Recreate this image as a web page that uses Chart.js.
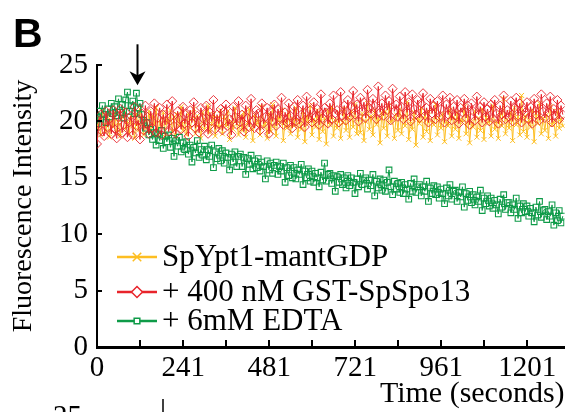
<!DOCTYPE html>
<html><head><meta charset="utf-8">
<script src="https://cdn.jsdelivr.net/npm/chart.js@4/dist/chart.umd.min.js"></script>
<style>html,body{margin:0;padding:0;background:#fff}#wrap{width:570px;height:412px;position:relative}</style>
</head><body><div id="wrap"><canvas id="c" width="570" height="412"></canvas></div>
<script>
// ---- data ----
const times = [0,5,10,15,20,25,30,35,40,45,50,55,60,65,70,75,80,85,90,95,100,105,110,115,120,125,130,135,140,145,150,155,160,165,170,175,180,185,190,195,200,205,210,215,220,225,230,235,240,245,250,255,260,265,270,275,280,285,290,295,300,305,310,315,320,325,330,335,340,345,350,355,360,365,370,375,380,385,390,395,400,405,410,415,420,425,430,435,440,445,450,455,460,465,470,475,480,485,490,495,500,505,510,515,520,525,530,535,540,545,550,555,560,565,570,575,580,585,590,595,600,605,610,615,620,625,630,635,640,645,650,655,660,665,670,675,680,685,690,695,700,705,710,715,720,725,730,735,740,745,750,755,760,765,770,775,780,785,790,795,800,805,810,815,820,825,830,835,840,845,850,855,860,865,870,875,880,885,890,895,900,905,910,915,920,925,930,935,940,945,950,955,960,965,970,975,980,985,990,995,1000,1005,1010,1015,1020,1025,1030,1035,1040,1045,1050,1055,1060,1065,1070,1075,1080,1085,1090,1095,1100,1105,1110,1115,1120,1125,1130,1135,1140,1145,1150,1155,1160,1165,1170,1175,1180,1185,1190,1195,1200,1205,1210,1215,1220,1225,1230,1235,1240,1245,1250,1255,1260,1265,1270,1275,1280,1285,1290,1295,1300];
const seriesNames = ['SpYpt1-mantGDP', '+ 400 nM GST-SpSpo13', '+ 6mM EDTA'];
const ypt1 = [
19.4,20.3,18.8,20.9,19.7,19.1,20.6,18.6,20.1,19.5,
20.8,19.0,19.9,18.7,20.4,21.0,19.3,20.0,18.9,20.5,
19.6,18.5,20.7,19.2,21.1,19.8,18.8,20.3,19.4,20.9,
19.0,20.5,19.7,21.2,18.9,20.1,19.5,20.8,18.6,20.2,
19.9,21.0,19.1,20.4,18.7,20.6,19.6,21.3,19.2,20.0,
18.8,20.7,19.4,20.2,21.1,18.9,20.5,19.7,18.5,20.8,
19.3,20.1,21.4,19.0,19.8,20.6,18.7,20.3,19.5,21.0,
18.9,20.4,19.6,20.9,18.4,20.0,19.3,21.2,19.8,18.8,
20.5,19.2,20.8,18.6,19.9,21.1,19.4,18.3,20.6,19.7,
20.2,18.8,21.3,19.5,20.0,18.5,20.7,19.1,21.5,19.6,
18.7,20.4,19.9,21.0,18.3,20.1,19.4,20.8,18.9,20.3,
19.6,21.2,18.6,20.0,19.3,20.9,18.2,20.5,19.8,21.4,
18.8,20.2,19.5,21.0,18.4,20.6,19.1,20.3,18.0,20.9,
19.7,21.3,18.7,20.1,19.4,20.8,18.5,19.9,21.1,19.2,
20.4,18.6,20.9,19.5,21.5,18.9,20.2,19.0,20.7,18.3,
20.0,21.6,19.3,20.5,18.8,21.0,19.7,20.3,18.1,20.8,
19.4,20.9,18.7,21.4,19.9,20.2,18.5,20.6,19.2,21.1,
18.9,20.4,19.6,21.7,18.4,20.0,19.3,20.8,17.9,20.3,
19.8,21.2,18.6,20.5,19.1,20.9,18.3,20.1,19.7,21.5,
18.8,20.3,19.4,20.7,18.2,20.0,19.6,21.0,18.7,20.4,
19.3,20.8,18.5,20.2,19.9,21.3,18.9,20.5,18.1,20.0,
19.5,20.9,18.6,20.3,19.2,21.1,18.4,20.6,19.8,20.1,
18.7,21.4,19.3,20.0,18.5,20.7,19.6,22.0,18.9,20.2,
19.4,20.8,18.3,21.2,19.7,20.4,18.8,22.3,19.1,20.5,
18.6,20.1,19.5,21.0,18.2,20.7,19.8,21.6,18.9,20.3,
19.2,20.6,18.5,21.3,19.7,20.0,18.7,20.9,19.4,20.2,
19.6];
const spo13 = [
18.0,19.8,20.6,19.1,18.7,20.9,19.5,20.2,18.9,21.0,
19.3,18.5,20.4,21.1,19.0,19.7,20.8,18.6,19.9,20.5,
18.8,21.3,19.6,20.1,18.4,20.7,19.2,21.4,19.8,18.9,
20.9,19.4,21.6,19.0,20.3,21.2,18.8,20.6,19.7,21.5,
19.1,20.4,21.8,19.6,18.9,20.9,20.2,19.3,21.3,19.8,
20.7,18.7,21.0,19.9,21.7,19.4,20.5,19.0,21.2,20.3,
19.5,21.4,18.9,20.8,20.0,21.9,19.3,20.6,19.8,21.1,
19.2,20.9,21.5,19.6,20.2,18.8,21.3,20.4,19.7,21.8,
19.9,20.6,19.1,21.4,20.3,19.5,22.0,20.1,19.4,21.0,
20.7,19.2,21.6,19.8,20.4,21.2,18.9,20.9,20.0,21.5,
19.6,21.1,20.3,22.1,19.7,20.8,19.9,21.6,20.5,19.4,
21.3,20.0,21.9,19.8,20.6,21.4,19.5,22.2,20.2,21.0,
19.9,21.7,20.4,21.1,19.7,22.4,20.3,21.2,20.8,19.8,
21.6,20.2,22.3,20.7,21.0,19.9,22.6,20.5,21.4,20.1,
21.9,20.4,21.3,22.7,20.6,21.5,20.0,22.1,20.9,21.7,
20.3,22.8,21.2,20.7,22.0,21.4,20.2,23.1,20.8,21.6,
20.5,22.3,21.0,21.8,20.1,22.9,20.9,21.5,20.4,22.2,
21.3,20.2,22.6,20.8,21.7,20.0,22.4,21.1,20.6,21.9,
20.3,21.6,22.5,20.5,21.2,19.9,22.0,20.7,21.4,20.2,
21.8,20.4,21.1,22.3,19.9,21.5,20.6,22.1,20.1,21.3,
20.5,21.9,19.8,21.2,20.8,22.0,20.3,21.4,19.7,21.6,
20.9,20.1,22.2,20.6,21.3,19.9,21.7,20.4,21.1,20.0,
21.5,20.3,21.9,20.7,19.8,21.4,20.6,22.3,20.2,21.0,
20.4,21.8,20.0,21.2,22.1,20.5,21.6,19.9,21.0,20.8,
21.7,20.2,21.3,19.8,22.0,20.6,21.5,20.1,22.4,20.9,
20.3,21.6,20.8,22.2,19.9,21.1,20.5,21.9,20.2,21.4,
20.6];
const edta = [
19.8,20.9,20.2,21.4,20.6,19.9,21.1,20.4,21.6,20.7,
21.3,20.5,22.0,20.8,21.5,20.3,21.9,22.6,20.9,21.4,
21.8,20.7,22.5,21.2,21.6,20.6,20.1,19.4,19.9,18.8,
19.3,18.4,19.0,17.9,18.9,18.3,19.2,17.6,18.7,18.2,
18.8,17.7,18.5,16.9,18.3,17.8,18.6,17.3,18.1,17.5,
18.2,17.1,17.9,16.4,17.7,17.2,18.3,16.8,17.5,17.0,
17.8,16.6,17.5,16.9,17.9,15.9,17.3,16.7,17.6,16.5,
17.4,16.3,17.2,16.8,15.7,17.1,16.4,17.3,16.0,16.9,
17.1,16.0,16.8,15.3,16.7,16.2,17.0,15.8,16.5,15.9,
16.7,15.6,16.4,16.0,14.9,16.5,15.7,16.3,15.4,16.1,
16.4,15.3,16.0,15.6,16.3,14.6,15.9,15.2,16.1,15.0,
15.9,14.9,15.7,15.3,16.2,14.4,15.6,15.0,15.8,14.7,
15.6,14.6,15.4,15.0,14.2,15.5,14.8,16.3,14.7,15.3,
15.4,14.5,15.2,13.8,15.1,14.6,15.3,14.4,15.0,14.1,
15.2,14.3,15.0,14.6,13.6,14.9,14.2,15.4,14.4,14.8,
15.0,14.0,14.8,14.3,15.3,13.4,14.7,14.1,14.9,13.9,
14.8,13.8,14.6,15.7,14.2,13.5,14.7,14.0,14.5,13.7,
14.6,13.6,14.4,14.0,13.1,14.5,13.8,14.9,13.7,14.2,
14.4,13.4,14.2,13.8,14.7,12.9,14.1,13.6,14.3,13.5,
14.2,13.2,14.0,13.6,12.7,14.1,13.4,14.4,13.1,13.8,
13.9,12.9,13.7,13.3,14.2,12.4,13.6,13.0,13.8,12.8,
13.5,12.6,13.3,12.9,13.9,12.1,13.2,12.7,13.4,12.5,
13.2,12.3,13.0,12.6,11.8,13.1,12.4,13.5,12.2,12.8,
12.8,11.9,12.6,12.2,13.2,11.4,12.5,11.9,12.7,12.0,
12.5,11.6,12.3,11.9,11.1,12.4,11.7,12.9,11.5,12.1,
12.2,11.3,12.0,11.6,12.6,10.8,11.9,11.2,12.1,11.0,
11.6];
const xTickValues = [0,121,241,361,481,601,721,841,961,1081,1201];
const xTickLabels = ['0','','241','','481','','721','','961','','1201'];
const yTickValues = [0,5,10,15,20,25];
const yTickLabels = ['0','5','10','15','20','25'];
const xTitle = 'Time (seconds)';
const yTitle = 'Fluorescence Intensity';
const panelLetter = 'B';
const arrowTime = 113;   // time where the arrow points (addition)
const arrowTipValue = 23.2;

// ---- styles ----
const colors = ['#FDBE22', '#E8242B', '#0E9B48'];
const styles = ['crossRot', 'rectRot', 'rect'];
const SERIF = "'Liberation Serif', 'Times New Roman', serif";
Chart.defaults.font.family = SERIF;
Chart.defaults.color = '#000';

const toXY = arr => arr.map((v, i) => ({x: times[i], y: v}));

const decor = {
  id: 'decor',
  afterDraw(chart) {
    const ctx = chart.ctx, xs = chart.scales.x, ys = chart.scales.y, ca = chart.chartArea;
    ctx.save();
    ctx.strokeStyle = '#000'; ctx.lineWidth = 2;
    // inward tick marks
    xTickValues.forEach(v => { if (v === 0) return; const px = Math.round(xs.getPixelForValue(v));
      ctx.beginPath(); ctx.moveTo(px, ca.bottom); ctx.lineTo(px, ca.bottom - 7); ctx.stroke(); });
    yTickValues.forEach(v => { if (v === 0) return; const py = Math.round(ys.getPixelForValue(v));
      ctx.beginPath(); ctx.moveTo(ca.left, py); ctx.lineTo(ca.left + 5, py); ctx.stroke(); });
    // arrow
    const ax = Math.round(xs.getPixelForValue(arrowTime)) + 0.5;
    const tip = ys.getPixelForValue(arrowTipValue);
    ctx.lineWidth = 2;
    ctx.beginPath(); ctx.moveTo(ax, tip - 41); ctx.lineTo(ax, tip - 8); ctx.stroke();
    ctx.fillStyle = '#000';
    ctx.beginPath(); ctx.moveTo(ax, tip); ctx.lineTo(ax - 8, tip - 14); ctx.lineTo(ax, tip - 10); ctx.lineTo(ax + 8, tip - 14); ctx.closePath(); ctx.fill();
    // panel letter
    ctx.font = "bold 41px 'Liberation Sans', Arial, sans-serif";
    ctx.textAlign = 'left'; ctx.textBaseline = 'alphabetic';
    ctx.fillText(panelLetter, 13, 47);
    // legend
    const rows = [257, 292, 321];
    const radii = [6, 5.5, 4];
    [0, 1, 2].forEach((di, k) => {
      const y = rows[k];
      const x0 = ca.left + 20, x1 = ca.left + 60, xm = (x0 + x1) / 2;
      ctx.strokeStyle = colors[di]; ctx.lineWidth = 2.5;
      ctx.beginPath(); ctx.moveTo(x0, y); ctx.lineTo(x1, y); ctx.stroke();
      ctx.fillStyle = '#fff'; ctx.lineWidth = 1.5;
      Chart.helpers.drawPoint(ctx, {pointStyle: styles[di], radius: radii[k], borderWidth: 1.5, rotation: 0}, xm, y);
      ctx.fillStyle = '#000';
      ctx.font = '31px ' + SERIF; ctx.textBaseline = 'middle'; ctx.textAlign = 'left';
      ctx.fillText(seriesNames[di], ca.left + 65, y + 1);
    });
    // beginning of the next panel, visible at the bottom edge
    ctx.font = '29px ' + SERIF; ctx.textAlign = 'right'; ctx.textBaseline = 'alphabetic';
    ctx.fillText('25', 82, 425);
    ctx.strokeStyle = '#000'; ctx.lineWidth = 1.5;
    ctx.beginPath(); ctx.moveTo(163, 399); ctx.lineTo(163, 412); ctx.stroke();
    ctx.restore();
  }
};

new Chart(document.getElementById('c'), {
  type: 'line',
  data: {
    datasets: [
      {label: seriesNames[0], data: toXY(ypt1), borderColor: colors[0], backgroundColor: 'rgba(0,0,0,0)',
       pointStyle: styles[0], pointRadius: 3.5, pointBorderWidth: 1, borderWidth: 1, order: 3},
      {label: seriesNames[1], data: toXY(spo13), borderColor: colors[1], backgroundColor: 'rgba(0,0,0,0)',
       pointStyle: styles[1], pointRadius: 4.5, pointBorderWidth: 0.9, borderWidth: 1, order: 1},
      {label: seriesNames[2], data: toXY(edta), borderColor: colors[2], backgroundColor: 'rgba(0,0,0,0)',
       pointStyle: styles[2], pointRadius: 4, pointBorderWidth: 1.1, borderWidth: 1, order: 2}
    ]
  },
  options: {
    responsive: false, animation: false, devicePixelRatio: 1,
    layout: {padding: {top: 65, left: 0, right: 0, bottom: 0}},
    plugins: {legend: {display: false}, tooltip: {enabled: false}},
    elements: {line: {tension: 0}},
    scales: {
      x: {
        type: 'linear', min: 0, max: 1305,
        afterBuildTicks: s => { s.ticks = xTickValues.map(v => ({value: v})); },
        afterFit: s => { s.height = 65; },
        ticks: {autoSkip: false, maxRotation: 0, padding: 4, color: '#000',
                font: {family: SERIF, size: 29},
                callback: (v, i) => xTickLabels[i]},
        grid: {display: true, drawOnChartArea: false, drawTicks: false},
        border: {display: true, color: '#000', width: 3},
        title: {display: true, text: xTitle, align: 'end', color: '#000',
                font: {family: SERIF, size: 30}, padding: {top: 0, bottom: 0}}
      },
      y: {
        type: 'linear', min: 0, max: 25,
        afterBuildTicks: s => { s.ticks = yTickValues.map(v => ({value: v})); },
        afterFit: s => { s.width = 97; },
        ticks: {padding: 9, color: '#000', font: {family: SERIF, size: 29},
                callback: (v, i) => yTickLabels[i]},
        grid: {display: true, drawOnChartArea: false, drawTicks: false},
        border: {display: true, color: '#000', width: 2},
        title: {display: true, text: yTitle, color: '#000',
                font: {family: SERIF, size: 28}, padding: {top: 7, bottom: 0}}
      }
    }
  },
  plugins: [decor]
});
</script></body></html>
